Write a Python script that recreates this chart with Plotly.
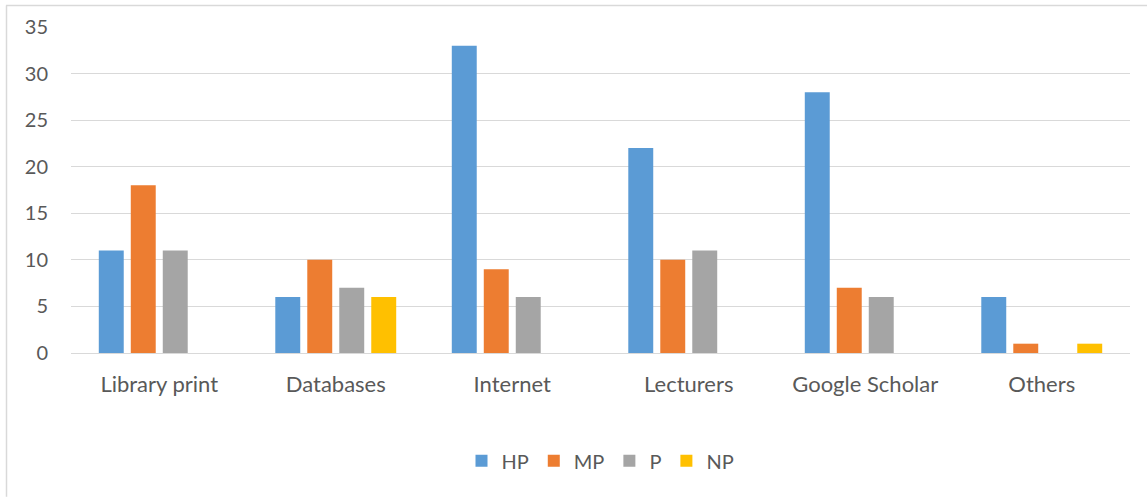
import plotly.graph_objects as go

categories = ["Library print", "Databases", "Internet", "Lecturers", "Google Scholar", "Others"]
hp = [11, 6, 33, 22, 28, 6]
mp = [18, 10, 9, 10, 7, 1]
p = [11, 7, 6, 11, 6, 0]
np_ = [0, 6, 0, 0, 0, 1]
series_names = ["HP", "MP", "P", "NP"]
colors = ["#5B9BD5", "#ED7D31", "#A5A5A5", "#FFC000"]
y_ticks = [0, 5, 10, 15, 20, 25, 30, 35]

fig = go.Figure()
for name, vals, col in zip(series_names, [hp, mp, p, np_], colors):
    fig.add_trace(go.Bar(x=categories, y=vals, name=name, marker=dict(color=col, line=dict(width=0))))

W, H = 1147, 497
L, R, T, B = 71, 17, 26.5, 144
pw, ph = W - L - R, H - T - B

def px_x(x):
    return (x - L) / pw

def px_y(y):
    return (H - B - y) / ph

fig.update_layout(
    width=W, height=H,
    margin=dict(l=L, r=R, t=T, b=B, autoexpand=False),
    paper_bgcolor="white", plot_bgcolor="white",
    barmode="group", bargap=0.275, bargroupgap=0.22,
    font=dict(family="Lato", color="#595959", size=20),
    legend=dict(orientation="h", x=0.5, xanchor="center", y=px_y(461), yanchor="middle",
                font=dict(family="Lato", size=20, color="#595959"), traceorder="normal",
                itemwidth=30),
    xaxis=dict(showgrid=False, showline=False, ticks="", ticklen=0,
               tickfont=dict(family="Lato", size=22, color="#595959"), ticklabelstandoff=16),
    yaxis=dict(range=[0, 35], tickvals=y_ticks, showgrid=True, gridcolor="#D9D9D9", gridwidth=1,
               zeroline=True, zerolinecolor="#D9D9D9", zerolinewidth=1, showline=False,
               tickfont=dict(family="Lato", size=20, color="#595959"), ticklen=0, ticks="",
               ticklabelstandoff=22),
    shapes=[
        dict(type="line", xref="paper", yref="paper", x0=px_x(6), x1=px_x(1147), y0=px_y(5), y1=px_y(5),
             line=dict(color="#D9D9D9", width=1.5)),
        dict(type="line", xref="paper", yref="paper", x0=px_x(6.5), x1=px_x(6.5), y0=px_y(5), y1=px_y(497),
             line=dict(color="#D9D9D9", width=1.5)),
    ],
)

fig.write_html("out.html", config={"displayModeBar": False})

with open("out.html", "r", encoding="utf-8") as f:
    html = f.read()
html = html.replace("<head>", "<head><style>html,body{margin:0;padding:0;overflow:hidden;}</style>", 1)
with open("out.html", "w", encoding="utf-8") as f:
    f.write(html)
